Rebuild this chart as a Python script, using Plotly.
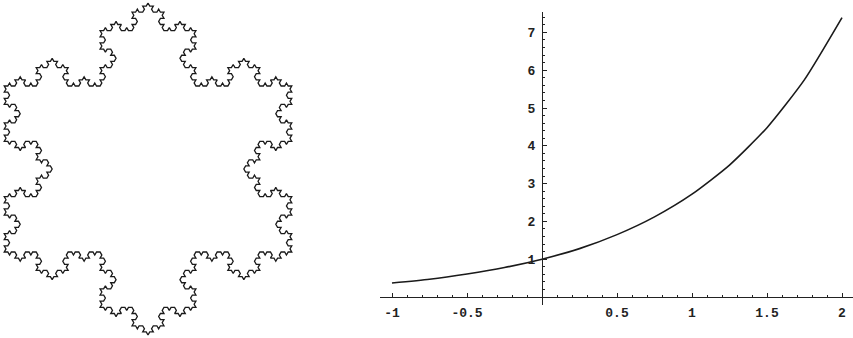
import numpy as np
import plotly.graph_objects as go

# ---- Koch snowflake: base triangle (unit circumradius, apex up) and depth ----
base_triangle_x = [0.0, 0.8660254, -0.8660254]
base_triangle_y = [1.0, -0.5, -0.5]
koch_depth = 4

# ---- exponential curve, sampled values ----
curve_x = [-1.0, -0.75, -0.5, -0.25, 0.0, 0.25, 0.5, 0.75, 1.0, 1.25, 1.5, 1.75, 2.0]
curve_y = [0.37, 0.47, 0.61, 0.78, 1.0, 1.28, 1.65, 2.12, 2.72, 3.49, 4.48, 5.75, 7.39]

x_tick_vals = [-1, -0.5, 0.5, 1, 1.5, 2]
x_tick_text = ["-1", "-0.5", "0.5", "1", "1.5", "2"]
y_tick_vals = [1, 2, 3, 4, 5, 6, 7]
y_tick_text = ["1", "2", "3", "4", "5", "6", "7"]


def koch_edge(p, q, depth):
    """Return the points of a Koch curve from p to q (q excluded)."""
    if depth == 0:
        return [p]
    d = (q - p) / 3.0
    a = p + d
    b = p + 2 * d
    rot = np.array([[0.5, -0.8660254], [0.8660254, 0.5]])  # +60 deg, bumps outward
    peak = a + rot @ d
    pts = []
    for s, e in ((p, a), (a, peak), (peak, b), (b, q)):
        pts.extend(koch_edge(s, e, depth - 1))
    return pts


verts = [np.array([x, y]) for x, y in zip(base_triangle_x, base_triangle_y)]
outline = []
for i in range(3):
    outline.extend(koch_edge(verts[i], verts[(i + 1) % 3], koch_depth))
outline.append(outline[0])
flake = np.array(outline)

W, H = 853, 338
fig = go.Figure()

fig.add_trace(go.Scatter(
    x=flake[:, 0], y=flake[:, 1], mode="lines",
    line=dict(color="#1a1a1a", width=1.3),
    xaxis="x", yaxis="y", hoverinfo="skip", showlegend=False,
))

fig.add_trace(go.Scatter(
    x=curve_x, y=curve_y, mode="lines",
    line=dict(color="#1a1a1a", width=1.6, shape="spline", smoothing=0.6),
    xaxis="x2", yaxis="y2", hoverinfo="skip", showlegend=False,
))

# snowflake frame: centre at (148, 169) px, radius 166 px
cx, cy, R = 148.0, 169.0, 166.0
left_w = 300.0
tick_font = dict(family="Liberation Mono", size=13, color="#222222", weight="bold")

fig.update_layout(
    width=W, height=H,
    margin=dict(l=0, r=0, t=0, b=0),
    paper_bgcolor="white", plot_bgcolor="white",
    xaxis=dict(domain=[0, left_w / W], range=[-cx / R, (left_w - cx) / R],
               visible=False, fixedrange=True),
    yaxis=dict(domain=[0, 1], range=[(cy - H) / R, cy / R],
               visible=False, fixedrange=True),
    xaxis2=dict(
        domain=[380 / W, 1.0], range=[-1.08, 2.0733],
        anchor="free", position=(H - 297) / H,
        showgrid=False, zeroline=False,
        showline=True, linecolor="#222222", linewidth=1,
        ticks="inside", ticklen=4, tickwidth=1, tickcolor="#222222",
        tickvals=x_tick_vals, ticktext=x_tick_text, tickfont=tick_font,
        ticklabelstandoff=3,
        minor=dict(dtick=0.1, tick0=0, ticks="inside", ticklen=2,
                   tickwidth=1, tickcolor="#222222", showgrid=False),
    ),
    yaxis2=dict(
        domain=[(H - 305) / H, (H - 12) / H], range=[-0.2116, 7.54],
        anchor="free", position=542 / W,
        showgrid=False, zeroline=False,
        showline=True, linecolor="#222222", linewidth=1,
        ticks="inside", ticklen=4, tickwidth=1, tickcolor="#222222",
        tickvals=y_tick_vals, ticktext=y_tick_text, tickfont=tick_font,
        ticklabelstandoff=4,
        minor=dict(dtick=0.2, tick0=0, ticks="inside", ticklen=2,
                   tickwidth=1, tickcolor="#222222", showgrid=False),
    ),
)

fig.write_html("out.html")
